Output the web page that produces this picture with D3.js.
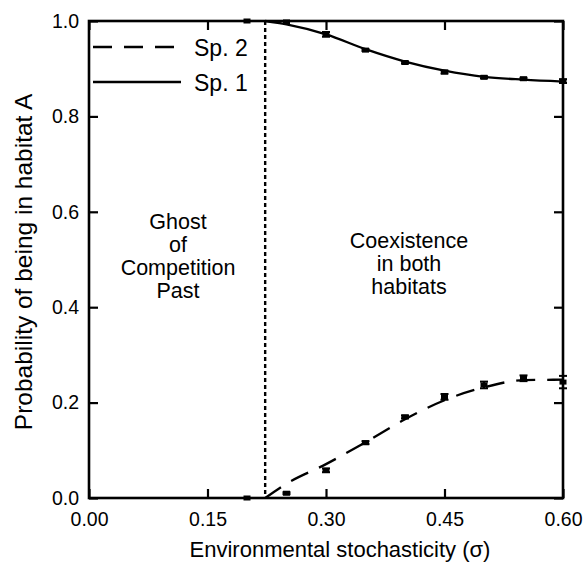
<!DOCTYPE html>
<html>
<head>
<meta charset="utf-8">
<script src="https://cdn.jsdelivr.net/npm/d3@7"></script>
<style>
  html, body { margin: 0; padding: 0; background: #fff; }
  svg { display: block; font-family: "Liberation Sans", Arial, Helvetica, sans-serif; }
</style>
</head>
<body>
<svg id="chart" width="583" height="565"></svg>
<script>
// simulated points (mean ± error)
const sigma   = [0.20, 0.25, 0.30, 0.35, 0.40, 0.45, 0.50, 0.55, 0.60];
const sp1Mean = [1.000, 0.998, 0.972, 0.939, 0.913, 0.893, 0.882, 0.879, 0.874];
const sp1Err  = [0, 0, 0.005, 0.002, 0.002, 0.003, 0.002, 0.002, 0.004];
const sp2Mean = [0.000, 0.010, 0.058, 0.116, 0.170, 0.212, 0.237, 0.251, 0.243];
const sp2Err  = [0, 0.002, 0.004, 0.003, 0.003, 0.006, 0.007, 0.006, 0.013];

// fitted curves
const fitSigma = [0.223, 0.25, 0.30, 0.35, 0.40, 0.45, 0.50, 0.55, 0.60];
const sp1Fit   = [1.000, 0.993, 0.972, 0.941, 0.915, 0.896, 0.883, 0.877, 0.873];
const sp2Fit   = [0.000, 0.030, 0.071, 0.117, 0.165, 0.205, 0.232, 0.247, 0.248];

const threshold = 0.223;   // boundary of the two regimes

const xTicks = [0, 0.15, 0.30, 0.45, 0.60];
const yTicks = [0, 0.2, 0.4, 0.6, 0.8, 1.0];

const regionLeft  = ["Ghost", "of", "Competition", "Past"];
const regionRight = ["Coexistence", "in both", "habitats"];
const legendItems = [
  { label: "Sp. 2", dash: "19,12" },
  { label: "Sp. 1", dash: null },
];

const svg = d3.select("#chart");
const W = 583, H = 565;
const margin = { top: 21, right: 20, bottom: 67, left: 89 };

const x = d3.scaleLinear().domain([0, 0.6]).range([margin.left, W - margin.right]);
const y = d3.scaleLinear().domain([0, 1]).range([H - margin.bottom, margin.top]);

// --- axes: inward ticks on all four sides
const tickLen = 9;
const fmtX = d3.format(".2f"), fmtY = d3.format(".1f");

function styleAxis(g) {
  g.select(".domain").remove();
  g.selectAll(".tick line").attr("stroke", "#000").attr("stroke-width", 2.2);
  g.selectAll(".tick text").attr("fill", "#000").attr("font-size", 19.5);
}

svg.append("g")
  .attr("transform", `translate(0,${y(0)})`)
  .call(d3.axisBottom(x).tickValues(xTicks).tickSize(-tickLen).tickPadding(14).tickFormat(fmtX))
  .call(styleAxis);
svg.append("g")
  .attr("transform", `translate(0,${y(1)})`)
  .call(d3.axisTop(x).tickValues(xTicks).tickSize(-tickLen).tickFormat(""))
  .call(styleAxis);
svg.append("g")
  .attr("transform", `translate(${x(0)},0)`)
  .call(d3.axisLeft(y).tickValues(yTicks).tickSize(-tickLen).tickPadding(10).tickFormat(fmtY))
  .call(styleAxis);
svg.append("g")
  .attr("transform", `translate(${x(0.6)},0)`)
  .call(d3.axisRight(y).tickValues(yTicks).tickSize(-tickLen).tickFormat(""))
  .call(styleAxis);

// frame
svg.append("rect")
  .attr("x", x(0)).attr("y", y(1))
  .attr("width", x(0.6) - x(0)).attr("height", y(0) - y(1))
  .attr("fill", "none").attr("stroke", "#000").attr("stroke-width", 2.6);

// --- regime boundary
svg.append("line")
  .attr("x1", x(threshold)).attr("x2", x(threshold))
  .attr("y1", y(1)).attr("y2", y(0))
  .attr("stroke", "#000").attr("stroke-width", 2.4)
  .attr("stroke-dasharray", "4,3");

// --- fitted curves
const line = d3.line()
  .x(d => x(d[0])).y(d => y(d[1]))
  .curve(d3.curveMonotoneX);

svg.append("path")
  .datum(fitSigma.map((s, i) => [s, sp1Fit[i]]))
  .attr("d", line)
  .attr("fill", "none").attr("stroke", "#000").attr("stroke-width", 2.3);

svg.append("path")
  .datum(fitSigma.map((s, i) => [s, sp2Fit[i]]))
  .attr("d", line)
  .attr("fill", "none").attr("stroke", "#000").attr("stroke-width", 2.3)
  .attr("stroke-dasharray", "19,12");

// --- simulated points with error bars
function drawPoints(means, errs) {
  const g = svg.append("g");
  sigma.forEach((s, i) => {
    const cx = x(s), lo = y(means[i] - errs[i]), hi = y(means[i] + errs[i]);
    if (errs[i] > 0) {
      g.append("line").attr("x1", cx).attr("x2", cx).attr("y1", lo).attr("y2", hi)
        .attr("stroke", "#000").attr("stroke-width", 2);
      [lo, hi].forEach(v => g.append("line")
        .attr("x1", cx - 4).attr("x2", cx + 4).attr("y1", v).attr("y2", v)
        .attr("stroke", "#000").attr("stroke-width", 2));
    }
    g.append("rect")
      .attr("x", cx - 3.5).attr("y", y(means[i]) - 2.5)
      .attr("width", 7).attr("height", 5)
      .attr("fill", "#000");
  });
}
drawPoints(sp1Mean, sp1Err);
drawPoints(sp2Mean, sp2Err);

// --- legend
const leg = svg.append("g").attr("transform", `translate(${x(0) + 4},47)`);
legendItems.forEach((d, i) => {
  const row = leg.append("g").attr("transform", `translate(0,${i * 35})`);
  row.append("line")
    .attr("x1", 0).attr("x2", 88).attr("y1", 0).attr("y2", 0)
    .attr("stroke", "#000").attr("stroke-width", 2.3)
    .attr("stroke-dasharray", d.dash);
  row.append("text")
    .attr("x", 101).attr("y", 9)
    .attr("font-size", 23)
    .text(d.label);
});

// --- region labels (tight line spacing as in the original)
function regionText(lines, cx, firstBaseline) {
  lines.forEach((t, i) => {
    svg.append("text")
      .attr("x", cx)
      .attr("y", firstBaseline + i * 23)
      .attr("text-anchor", "middle")
      .attr("font-size", 21.5)
      .text(t);
  });
}
regionText(regionLeft, 178, 229);
regionText(regionRight, 409, 248);

// --- axis titles
svg.append("text")
  .attr("x", 340).attr("y", 557)
  .attr("text-anchor", "middle")
  .attr("font-size", 22)
  .text("Environmental stochasticity (σ)");

svg.append("text")
  .attr("transform", "translate(32,262) rotate(-90)")
  .attr("text-anchor", "middle")
  .attr("font-size", 24.5)
  .text("Probability of being in habitat A");
</script>
</body>
</html>
